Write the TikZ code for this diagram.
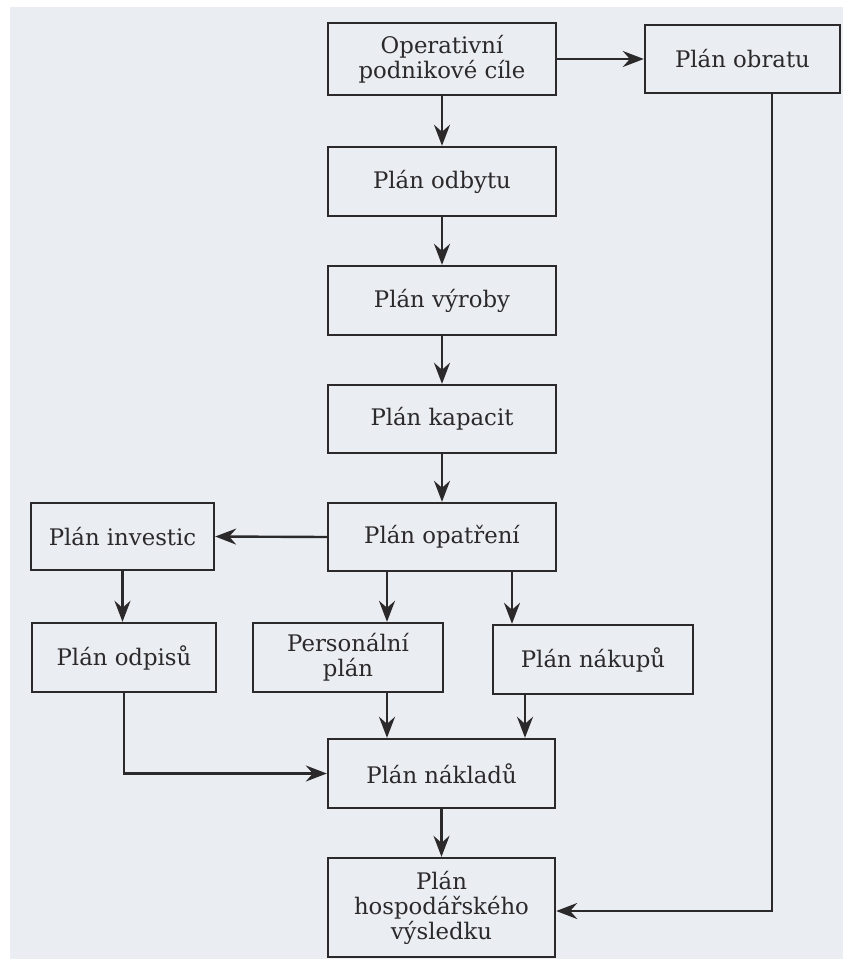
\documentclass[tikz,border=0pt]{standalone}
\usepackage{fontspec}
\setmainfont{DejaVu Serif}
\usetikzlibrary{arrows.meta}
\definecolor{bg}{RGB}{234,237,242}
\definecolor{ink}{RGB}{44,41,43}
\begin{document}
\begin{tikzpicture}[x=0.5pt,y=-0.5pt,
  box/.style={draw=ink, line width=1.2pt, text=ink, align=center, inner sep=0pt,
    font=\fontsize{11.4}{12.5}\selectfont},
  arr/.style={draw=ink, line width=1.2pt, -{Stealth[length=10.5pt,width=8pt,inset=3.5pt]}}]
\fill[white] (0,0) rectangle (843,959);
\fill[bg] (10,7) rectangle (843,959);
\useasboundingbox (0,0) rectangle (843,959);
% nodes
\node[box, minimum width=114pt, minimum height=36pt]   (op)  at (442,59)    {Operativní\\podnikové cíle};
\node[box, minimum width=97.5pt, minimum height=34pt]  (obr) at (742.5,59)  {Plán obratu};
\node[box, minimum width=114pt, minimum height=34.5pt] (odb) at (442,181.5) {Plán odbytu};
\node[box, minimum width=114pt, minimum height=34.5pt] (vyr) at (442,300.5) {Plán výroby};
\node[box, minimum width=114pt, minimum height=34pt]   (kap) at (442,419)   {Plán kapacit};
\node[box, minimum width=114pt, minimum height=34pt]   (opa) at (442,537)   {Plán opatření};
\node[box, minimum width=91.5pt, minimum height=33.5pt] (inv) at (122.5,536.5) {Plán investic};
\node[box, minimum width=92pt, minimum height=34.5pt]  (odp) at (124,657.5) {Plán odpisů};
\node[box, minimum width=95pt, minimum height=34.5pt]  (per) at (348,657.5) {Personální\\plán};
\node[box, minimum width=100pt, minimum height=34.5pt] (nak) at (593,659.5) {Plán nákupů};
\node[box, minimum width=113.5pt, minimum height=34.5pt] (nkl) at (441.5,773.5) {Plán nákladů};
\node[box, minimum width=113.5pt, minimum height=49.5pt] (hos) at (441.5,907.5) {Plán\\hospodářského\\výsledku};
% helper coordinates for off-centre connectors
\coordinate (xa) at (387,0);
\coordinate (xb) at (512,0);
\coordinate (xc) at (525,0);
\coordinate (ob) at (772,911);
% connectors
\draw[arr] (op.east) -- (obr.west);
\draw[arr] (op.south) -- (odb.north);
\draw[arr] (odb.south) -- (vyr.north);
\draw[arr] (vyr.south) -- (kap.north);
\draw[arr] (kap.south) -- (opa.north);
\draw[arr] (opa.west) -- (inv.east);
\draw[arr] (inv.south) -- (inv.south |- odp.north);
\draw[arr] (opa.south -| xa) -- (per.north -| xa);
\draw[arr] (opa.south -| xb) -- (nak.north -| xb);
\draw[arr] (per.south -| xa) -- (nkl.north -| xa);
\draw[arr] (nak.south -| xc) -- (nkl.north -| xc);
\draw[arr] (odp.south) -- (odp.south |- nkl.west) -- (nkl.west);
\draw[arr] (nkl.south) -- (hos.north);
\draw[arr] (obr.south -| ob) -- (ob) -- (hos.east |- ob);
\end{tikzpicture}
\end{document}
